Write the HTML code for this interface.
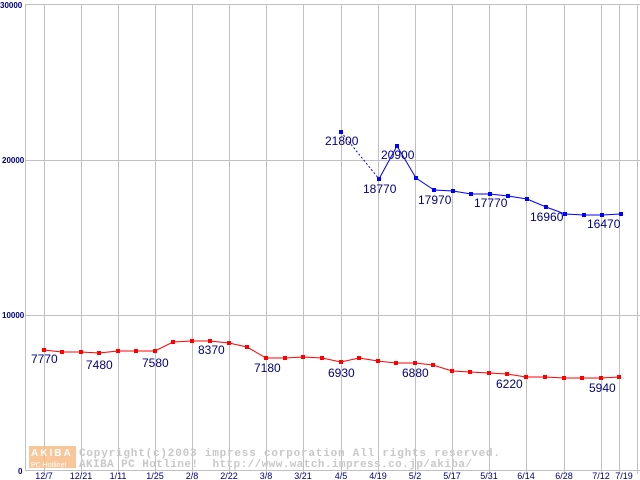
<!DOCTYPE html>
<html><head><style>body{margin:0;background:#fff}svg{display:block}</style></head><body>
<svg width="640" height="480" xmlns="http://www.w3.org/2000/svg" font-family="Liberation Sans, sans-serif">
<g stroke="#c0c0c0" stroke-width="1">
<line x1="25.5" y1="4" x2="25.5" y2="470"/>
<line x1="44.5" y1="4" x2="44.5" y2="474"/><line x1="81.5" y1="4" x2="81.5" y2="474"/><line x1="118.5" y1="4" x2="118.5" y2="474"/><line x1="155.5" y1="4" x2="155.5" y2="474"/><line x1="192.5" y1="4" x2="192.5" y2="474"/><line x1="229.5" y1="4" x2="229.5" y2="474"/><line x1="266.5" y1="4" x2="266.5" y2="474"/><line x1="303.5" y1="4" x2="303.5" y2="474"/><line x1="341.5" y1="4" x2="341.5" y2="474"/><line x1="378.5" y1="4" x2="378.5" y2="474"/><line x1="415.5" y1="4" x2="415.5" y2="474"/><line x1="452.5" y1="4" x2="452.5" y2="474"/><line x1="489.5" y1="4" x2="489.5" y2="474"/><line x1="526.5" y1="4" x2="526.5" y2="474"/><line x1="564.5" y1="4" x2="564.5" y2="474"/><line x1="601.5" y1="4" x2="601.5" y2="474"/><line x1="619.5" y1="4" x2="619.5" y2="474"/><line x1="637.5" y1="4" x2="637.5" y2="474"/>
<line x1="25" y1="4.5" x2="640" y2="4.5"/><line x1="25" y1="160.5" x2="640" y2="160.5"/><line x1="25" y1="315.5" x2="640" y2="315.5"/><line x1="25" y1="470.5" x2="640" y2="470.5"/>
</g>
<rect x="29" y="446" width="47" height="22" fill="#f8b880" opacity="0.8"/>
<text x="31" y="456" font-size="10" fill="#fff" font-weight="bold" letter-spacing="2">AKIBA</text>
<text x="31" y="467" font-size="7" fill="#fff">PC Hotline!</text>
<g font-family="Liberation Mono, monospace" font-size="11" fill="#c8c8c8" font-weight="bold">
<text x="79" y="456" textLength="421" lengthAdjust="spacing">Copyright(c)2003 impress corporation All rights reserved.</text>
<text x="79" y="467" textLength="393" lengthAdjust="spacing" xml:space="preserve">AKIBA PC Hotline!  http://www.watch.impress.co.jp/akiba/</text>
</g>
<g font-size="8" fill="#000080" font-weight="bold">
<text x="0" y="8">30000</text><text x="2" y="163">20000</text><text x="2" y="318">10000</text><text x="18" y="474">0</text>
</g>
<g font-size="9" fill="#000080" text-anchor="middle">
<text x="44" y="479">12/7</text><text x="81" y="479">12/21</text><text x="118" y="479">1/11</text><text x="155" y="479">1/25</text><text x="192" y="479">2/8</text><text x="229" y="479">2/22</text><text x="266" y="479">3/8</text><text x="303" y="479">3/21</text><text x="341" y="479">4/5</text><text x="378" y="479">4/19</text><text x="415" y="479">5/2</text><text x="452" y="479">5/17</text><text x="489" y="479">5/31</text><text x="526" y="479">6/14</text><text x="564" y="479">6/28</text><text x="601" y="479">7/12</text><text x="624" y="479">7/19</text>
</g>
<polyline fill="none" stroke="#f00" stroke-width="1" points="44,350 62,352 81,352 99,353 118,351 136,351 155,351 173,342 192,341 210,341 229,343 247,347 266,358 285,358 303,357 322,358 341,362 359,358 378,361 396,363 415,363 433,365 452,371 470,372 489,373 507,374 526,377 545,377 564,378 582,378 601,378 619,377"/>
<g fill="#f00">
<rect x="42" y="348" width="4" height="4"/><rect x="60" y="350" width="4" height="4"/><rect x="79" y="350" width="4" height="4"/><rect x="97" y="351" width="4" height="4"/><rect x="116" y="349" width="4" height="4"/><rect x="134" y="349" width="4" height="4"/><rect x="153" y="349" width="4" height="4"/><rect x="171" y="340" width="4" height="4"/><rect x="190" y="339" width="4" height="4"/><rect x="208" y="339" width="4" height="4"/><rect x="227" y="341" width="4" height="4"/><rect x="245" y="345" width="4" height="4"/><rect x="264" y="356" width="4" height="4"/><rect x="283" y="356" width="4" height="4"/><rect x="301" y="355" width="4" height="4"/><rect x="320" y="356" width="4" height="4"/><rect x="339" y="360" width="4" height="4"/><rect x="357" y="356" width="4" height="4"/><rect x="376" y="359" width="4" height="4"/><rect x="394" y="361" width="4" height="4"/><rect x="413" y="361" width="4" height="4"/><rect x="431" y="363" width="4" height="4"/><rect x="450" y="369" width="4" height="4"/><rect x="468" y="370" width="4" height="4"/><rect x="487" y="371" width="4" height="4"/><rect x="505" y="372" width="4" height="4"/><rect x="524" y="375" width="4" height="4"/><rect x="543" y="375" width="4" height="4"/><rect x="562" y="376" width="4" height="4"/><rect x="580" y="376" width="4" height="4"/><rect x="599" y="376" width="4" height="4"/><rect x="617" y="375" width="4" height="4"/>
</g>
<line x1="341" y1="132" x2="379" y2="179" stroke="#00f" stroke-dasharray="2,2"/>
<polyline fill="none" stroke="#00f" points="379,179 397,146 416,178 434,190 453,191 471,194 490,194 508,196 527,199 546,207 565,214 584,215 602,215 621,214"/>
<g fill="#00f">
<rect x="339" y="130" width="4" height="4"/><rect x="377" y="177" width="4" height="4"/><rect x="395" y="144" width="4" height="4"/><rect x="414" y="176" width="4" height="4"/><rect x="432" y="188" width="4" height="4"/><rect x="451" y="189" width="4" height="4"/><rect x="469" y="192" width="4" height="4"/><rect x="488" y="192" width="4" height="4"/><rect x="506" y="194" width="4" height="4"/><rect x="525" y="197" width="4" height="4"/><rect x="544" y="205" width="4" height="4"/><rect x="563" y="212" width="4" height="4"/><rect x="582" y="213" width="4" height="4"/><rect x="600" y="213" width="4" height="4"/><rect x="619" y="212" width="4" height="4"/>
</g>
<g font-size="12" fill="#000080">
<text x="31" y="363">7770</text><text x="86" y="369">7480</text><text x="142" y="367">7580</text><text x="198" y="354">8370</text><text x="254" y="372">7180</text><text x="328" y="377">6930</text><text x="402" y="377">6880</text><text x="496" y="388">6220</text><text x="589" y="392">5940</text>
<text x="325" y="145">21800</text><text x="363" y="193">18770</text><text x="381" y="159">20900</text><text x="418" y="204">17970</text><text x="474" y="207">17770</text><text x="530" y="221">16960</text><text x="587" y="228">16470</text>
</g>
</svg>
</body></html>
